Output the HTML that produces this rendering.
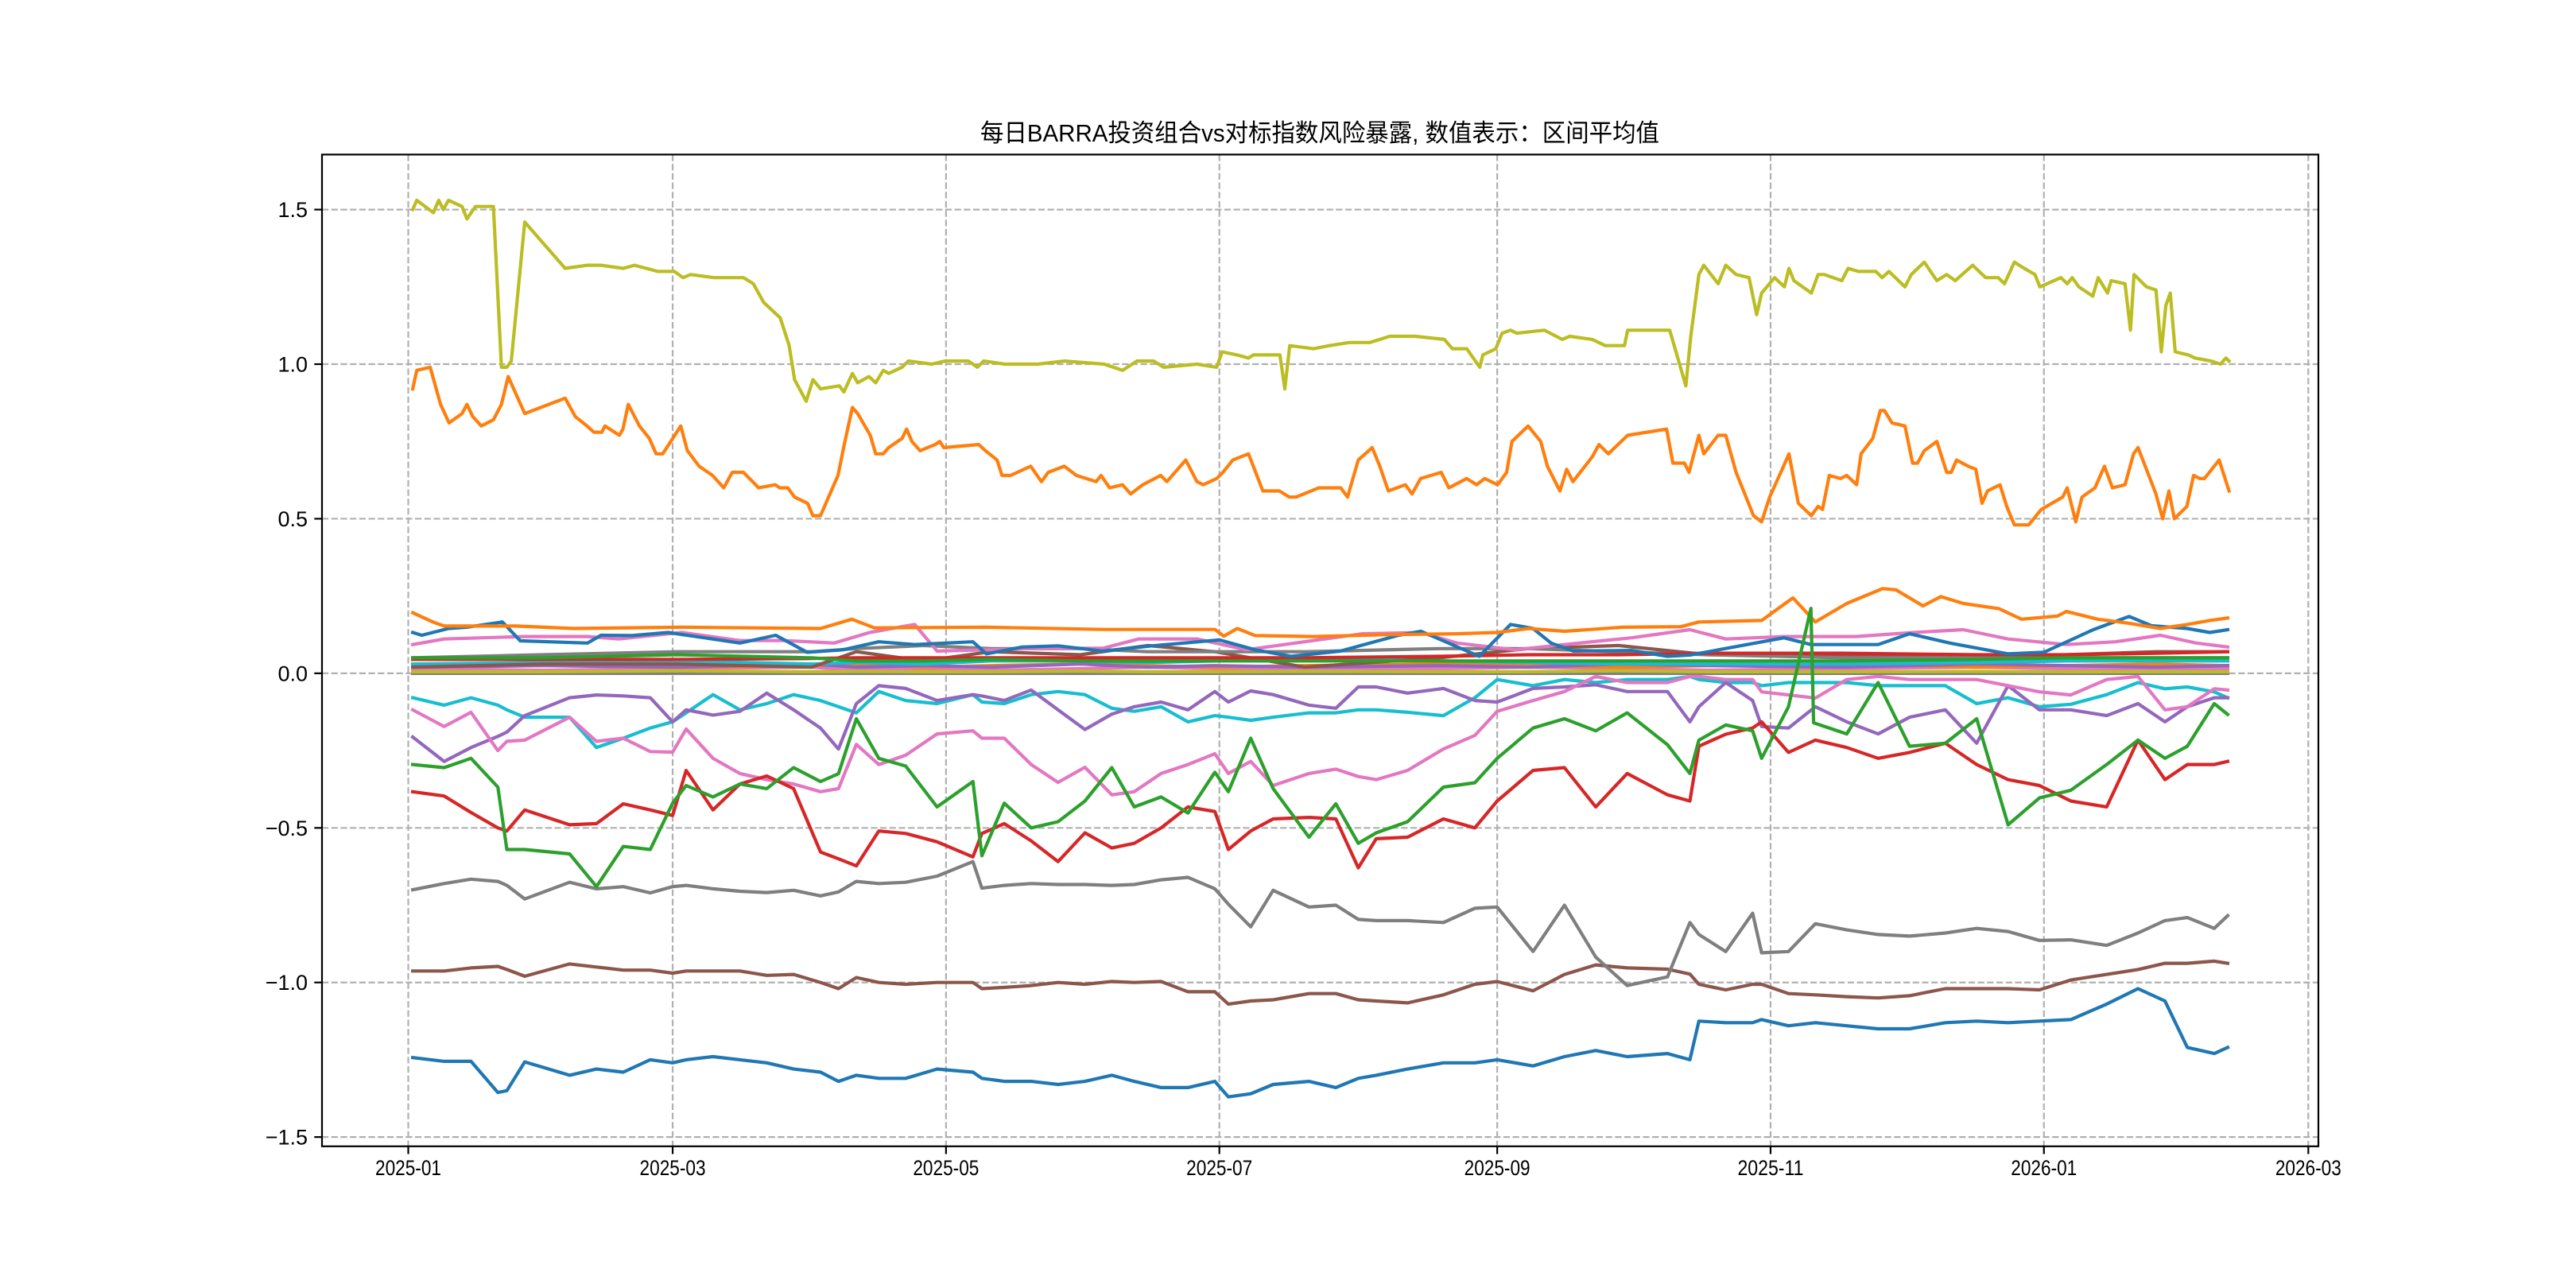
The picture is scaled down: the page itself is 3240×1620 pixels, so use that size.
<!DOCTYPE html>
<html><head><meta charset="utf-8"><style>
html,body{margin:0;padding:0;background:#fff}
svg{display:block}
text{font-family:"Liberation Sans","Noto Sans CJK SC",sans-serif;fill:#000}
</style></head><body>
<svg id="chart" width="3240" height="1620" viewBox="0 0 3240 1620" xmlns="http://www.w3.org/2000/svg">
<rect width="3240" height="1620" fill="#fff"/>
<defs><clipPath id="plotclip"><rect x="405" y="194.4" width="2511" height="1247.4"/></clipPath></defs>
<g id="grid"></g>
<g id="series" clip-path="url(#plotclip)"></g>
<rect x="405" y="194.4" width="2511" height="1247.4" fill="none" stroke="#000" stroke-width="2.2"/>
<g id="ticks"></g>
<text x="1660" y="178" text-anchor="middle" font-size="31" textLength="854" lengthAdjust="spacingAndGlyphs">每日BARRA投资组合vs对标指数风险暴露, 数值表示：区间平均值</text>
</svg>
<script>
// x in days since 2025-01-01
const xTickDays = [0,59,120,181,243,304,365,424];
const xTickLabels = ["2025-01","2025-03","2025-05","2025-07","2025-09","2025-11","2026-01","2026-03"];
const yTicks = [-1.5,-1.0,-0.5,0.0,0.5,1.0,1.5];
const yTickLabels = ["−1.5","−1.0","−0.5","0.0","0.5","1.0","1.5"];

const oliveDays = [1,1.9,5.6,6.8,7.8,9,12,13.1,15,19,20.8,22,23,26,35,40,43,48,50.5,55.7,59.4,61.3,63,68.2,71.9,74.8,77,79.3,83,85,86.2,88.8,90.3,92,96.2,97.2,99.1,100.3,102.8,104.3,106,107.2,110.2,111.6,116.8,119.8,125,127,128.4,133.1,140.5,146.4,155.3,159.4,162.6,166.3,168.6,176,180.4,181.6,184.9,187.5,188.6,194.5,195.6,196.7,202,205.6,210,214.6,219,224.7,231.2,233,236.2,239.1,239.8,242.7,244.1,246,247.4,253.5,257.5,259.2,264.2,267.1,271.4,272.1,281.5,285.1,286.2,288,289.1,292.3,294,296.3,299.2,300.9,302,304.9,307.1,308.1,309.2,313.1,314.6,316,319.9,321.3,323.6,327.5,328.9,330.4,334,335.4,338.3,341.1,343.3,345.2,349.1,352,354.8,356.2,358.4,360.6,363,364.1,368.8,370.2,371.3,372.8,375.9,377.1,379.2,380,383.1,384.3,385.1,387.9,390,391.2,392.2,393.2,394.3,397.2,398.7,402.3,404.4,405.6,406.3];
const oliveVals = [1.50,1.53,1.49,1.53,1.50,1.53,1.51,1.47,1.51,1.51,0.99,0.99,1.01,1.46,1.31,1.32,1.32,1.31,1.32,1.30,1.30,1.28,1.29,1.28,1.28,1.28,1.26,1.20,1.15,1.06,0.95,0.88,0.95,0.92,0.93,0.91,0.97,0.94,0.96,0.94,0.98,0.97,0.99,1.01,1.00,1.01,1.01,0.99,1.01,1.00,1.00,1.01,1.00,0.98,1.01,1.01,0.99,1.00,0.99,1.04,1.03,1.02,1.03,1.03,0.92,1.06,1.05,1.06,1.07,1.07,1.09,1.09,1.08,1.05,1.05,0.99,1.03,1.05,1.10,1.11,1.10,1.11,1.08,1.09,1.08,1.06,1.06,1.11,1.11,0.93,1.09,1.29,1.32,1.26,1.32,1.29,1.28,1.16,1.23,1.28,1.25,1.31,1.27,1.23,1.29,1.29,1.27,1.31,1.30,1.30,1.28,1.30,1.25,1.29,1.33,1.27,1.29,1.27,1.32,1.28,1.28,1.26,1.33,1.31,1.29,1.25,1.28,1.26,1.28,1.25,1.22,1.28,1.23,1.27,1.26,1.11,1.29,1.25,1.24,1.04,1.19,1.23,1.04,1.03,1.02,1.01,1.00,1.02,1.01];

const orangeDays = [1,1.9,4.9,7.2,9.1,12,13.1,14.4,16.3,19,20.8,22.3,26,35,37.3,39.9,41.4,43.2,43.9,47.1,47.9,49.1,51.6,53.8,55.3,56.8,60.8,62.3,64.9,67.9,70.4,72.3,74.8,78.2,81.9,82.9,84.7,86.2,89.1,90.3,92,95.9,97.3,99.1,100.3,103.1,104.3,106,107.2,110.2,111.2,112.4,114.2,117.6,118.6,119.5,127.3,128.8,131.4,132.5,134.4,138.9,141.3,142.8,146.4,149.1,153.5,154.6,156.5,159.4,161.2,163.9,167.9,169.3,173.5,176,177.4,180.4,181.8,184,187.5,190.7,192.2,194.4,196.6,198.1,203.2,204.7,208.1,209.6,212,215.1,216.8,218.7,222.5,224,225.9,230.5,232.2,236.2,238.4,240.2,243.1,245.1,246.3,249.9,252.7,254.2,257,258.5,259.9,264.2,265.7,267.8,272.1,280.8,282.2,284.8,285.8,288,289.1,292.3,294,296.3,300.2,302,303.8,306.6,308.1,310.2,313.1,314.6,315.6,317.1,319.6,321,323.2,324.2,326.8,328.5,329.4,331.1,334,335.7,336.8,338.3,341.1,343.3,344.3,345.5,348.1,349.8,351.2,352.4,355.2,356.7,358.4,361.6,364.4,369.2,370.2,372.1,373.5,376.4,378.5,380.3,383.1,385,386,390,391.5,392.9,394.1,396.9,398.4,399.8,400.8,404.1,406.3];
const orangeVals = [0.92,0.98,0.99,0.87,0.81,0.84,0.87,0.83,0.80,0.82,0.87,0.96,0.84,0.89,0.83,0.80,0.78,0.78,0.80,0.77,0.79,0.87,0.80,0.76,0.71,0.71,0.80,0.72,0.67,0.64,0.60,0.65,0.65,0.60,0.61,0.60,0.60,0.57,0.55,0.51,0.51,0.64,0.74,0.86,0.84,0.77,0.71,0.71,0.73,0.76,0.79,0.75,0.72,0.74,0.75,0.73,0.74,0.72,0.69,0.64,0.64,0.67,0.62,0.65,0.67,0.64,0.62,0.64,0.60,0.61,0.58,0.61,0.64,0.62,0.69,0.62,0.61,0.63,0.65,0.69,0.71,0.59,0.59,0.59,0.57,0.57,0.60,0.60,0.60,0.57,0.69,0.73,0.67,0.59,0.61,0.58,0.63,0.65,0.60,0.63,0.61,0.63,0.61,0.65,0.75,0.80,0.75,0.67,0.59,0.66,0.62,0.70,0.74,0.71,0.77,0.79,0.68,0.68,0.65,0.77,0.71,0.77,0.77,0.65,0.51,0.49,0.57,0.66,0.71,0.55,0.51,0.54,0.53,0.64,0.63,0.64,0.61,0.71,0.76,0.85,0.85,0.81,0.80,0.68,0.68,0.72,0.75,0.65,0.65,0.69,0.67,0.66,0.55,0.59,0.61,0.54,0.48,0.48,0.53,0.57,0.60,0.49,0.57,0.60,0.67,0.60,0.61,0.71,0.73,0.58,0.50,0.59,0.50,0.54,0.64,0.63,0.63,0.69,0.59];

const posDaysA = [1,5.5,8,24,37,61,92,99,104,129,155,180,182,185,189,202,218,234,243,250,258,271,284,288,302,309,314,321,329,332,338,342,347,355,360,368,370,377,384,391,397,402,406];
const orange2Vals = [0.196,0.166,0.153,0.153,0.145,0.149,0.145,0.175,0.147,0.149,0.142,0.142,0.120,0.145,0.122,0.119,0.125,0.128,0.132,0.145,0.136,0.149,0.151,0.166,0.171,0.244,0.166,0.226,0.274,0.270,0.218,0.248,0.226,0.209,0.175,0.185,0.200,0.175,0.162,0.145,0.158,0.171,0.179];
const blue2Days = [1,3,9,13,21,25,40,43,50,58,74,82,89,97,105,113,126,129,137,145,155,166,181,189,197,208,221,226,239,246,251,255,260,273,281,286,307,313,328,335,344,357,365,376,384,389,397,402,406];
const blue2Vals = [0.132,0.123,0.145,0.149,0.166,0.105,0.098,0.123,0.122,0.132,0.098,0.123,0.068,0.076,0.102,0.093,0.102,0.063,0.085,0.089,0.072,0.089,0.108,0.076,0.055,0.072,0.123,0.136,0.055,0.158,0.145,0.098,0.072,0.074,0.055,0.059,0.115,0.093,0.093,0.128,0.098,0.063,0.068,0.141,0.184,0.154,0.145,0.132,0.141];
const pink2Days = [1,8,26,40,47,61,74,84,95,103,113,118,129,142,155,163,176,187,200,213,226,234,247,258,273,286,294,307,323,336,347,357,370,381,391,399,406];
const pink2Vals = [0.093,0.111,0.119,0.119,0.111,0.132,0.106,0.106,0.098,0.132,0.158,0.072,0.076,0.081,0.081,0.111,0.111,0.076,0.102,0.128,0.132,0.098,0.076,0.093,0.115,0.141,0.111,0.119,0.119,0.132,0.141,0.111,0.093,0.102,0.123,0.098,0.085];

const minorDays = [1,30,60,90,100,115,130,150,165,180,200,230,250,270,290,320,350,370,390,406];
const brown2Vals = [0.02,0.03,0.03,0.02,0.07,0.04,0.07,0.06,0.09,0.07,0.02,0.05,0.08,0.09,0.06,0.06,0.05,0.06,0.07,0.07];
const gray2Vals = [0.05,0.06,0.07,0.07,0.08,0.09,0.08,0.08,0.07,0.07,0.07,0.08,0.08,0.07,0.06,0.05,0.05,0.05,0.05,0.05];
const red2Vals = [0.045,0.045,0.045,0.048,0.05,0.05,0.05,0.05,0.05,0.05,0.05,0.055,0.06,0.06,0.065,0.065,0.06,0.06,0.065,0.07];
const green2Vals = [0.05,0.05,0.06,0.05,0.04,0.04,0.045,0.04,0.04,0.04,0.04,0.04,0.04,0.04,0.04,0.04,0.045,0.05,0.05,0.05];
const cyan2Vals = [0.03,0.035,0.04,0.03,0.035,0.03,0.04,0.04,0.035,0.04,0.05,0.04,0.035,0.03,0.03,0.03,0.035,0.04,0.04,0.04];
const purple2Vals = [0.02,0.025,0.02,0.03,0.02,0.025,0.02,0.03,0.02,0.025,0.02,0.025,0.02,0.03,0.025,0.02,0.03,0.025,0.02,0.025];
const orange3Vals = [0.025,0.03,0.02,0.025,0.03,0.02,0.025,0.03,0.025,0.02,0.025,0.03,0.025,0.02,0.025,0.03,0.02,0.025,0.03,0.025];
const pink3Vals = [0.015,0.01,0.015,0.02,0.01,0.015,0.01,0.015,0.02,0.015,0.01,0.015,0.02,0.015,0.01,0.015,0.02,0.015,0.01,0.015];
const olive2Vals = [0.005,0.005,0.008,0.005,0.006,0.005,0.005,0.007,0.005,0.005,0.006,0.005,0.005,0.008,0.005,0.005,0.006,0.005,0.005,0.005];
const gray3Vals = [0,0,0,0,0,0,0,0,0,0,0,0,0,0,0,0,0,0,0,0];

const gridDays = [1,8,14,20,22,26,36,42,48,54,59,62,68,74,80,86,92,96,100,105,111,118,126,128,133,139,145,151,157,162,168,174,180,183,188,193,201,207,212,216,223,231,238,243,251,258,265,272,281,286,288,294,300,302,308,314,321,328,335,343,350,357,364,371,379,386,392,397,403,406];
const blueVals = [-1.243,-1.255,-1.255,-1.356,-1.35,-1.257,-1.30,-1.28,-1.29,-1.25,-1.26,-1.25,-1.24,-1.25,-1.26,-1.28,-1.29,-1.32,-1.30,-1.31,-1.31,-1.28,-1.29,-1.31,-1.32,-1.32,-1.33,-1.32,-1.30,-1.32,-1.34,-1.34,-1.32,-1.37,-1.36,-1.33,-1.32,-1.34,-1.31,-1.30,-1.28,-1.26,-1.26,-1.25,-1.27,-1.24,-1.22,-1.24,-1.23,-1.25,-1.125,-1.13,-1.13,-1.12,-1.14,-1.13,-1.14,-1.15,-1.15,-1.13,-1.125,-1.13,-1.125,-1.12,-1.07,-1.02,-1.06,-1.21,-1.23,-1.21];
const brownVals = [-0.963,-0.963,-0.953,-0.948,-0.958,-0.98,-0.94,-0.95,-0.96,-0.96,-0.97,-0.963,-0.963,-0.963,-0.977,-0.974,-1.00,-1.02,-0.984,-1.00,-1.006,-1.00,-1.00,-1.02,-1.016,-1.01,-1.00,-1.006,-0.997,-1.00,-0.997,-1.03,-1.03,-1.07,-1.06,-1.056,-1.036,-1.036,-1.056,-1.06,-1.066,-1.04,-1.006,-0.997,-1.027,-0.974,-0.943,-0.953,-0.957,-0.973,-1.006,-1.024,-1.006,-1.006,-1.036,-1.04,-1.046,-1.05,-1.043,-1.02,-1.02,-1.02,-1.024,-0.992,-0.974,-0.958,-0.938,-0.938,-0.931,-0.938];
const grayVals = [-0.70,-0.68,-0.666,-0.673,-0.686,-0.73,-0.676,-0.697,-0.69,-0.71,-0.69,-0.686,-0.697,-0.705,-0.709,-0.702,-0.72,-0.707,-0.673,-0.68,-0.676,-0.656,-0.609,-0.695,-0.686,-0.68,-0.683,-0.683,-0.686,-0.683,-0.668,-0.66,-0.697,-0.747,-0.82,-0.702,-0.756,-0.75,-0.796,-0.80,-0.80,-0.806,-0.76,-0.756,-0.90,-0.75,-0.918,-1.01,-0.982,-0.806,-0.845,-0.90,-0.776,-0.904,-0.90,-0.81,-0.83,-0.845,-0.85,-0.84,-0.825,-0.835,-0.864,-0.862,-0.88,-0.84,-0.80,-0.79,-0.825,-0.784];
const redVals = [-0.383,-0.397,-0.45,-0.50,-0.51,-0.442,-0.49,-0.486,-0.422,-0.442,-0.46,-0.314,-0.442,-0.358,-0.332,-0.373,-0.578,-0.60,-0.623,-0.51,-0.518,-0.545,-0.594,-0.518,-0.486,-0.542,-0.609,-0.516,-0.565,-0.55,-0.50,-0.432,-0.447,-0.57,-0.51,-0.471,-0.466,-0.471,-0.629,-0.535,-0.53,-0.471,-0.50,-0.413,-0.314,-0.305,-0.432,-0.324,-0.393,-0.413,-0.236,-0.197,-0.177,-0.157,-0.256,-0.216,-0.24,-0.275,-0.256,-0.226,-0.295,-0.344,-0.363,-0.413,-0.432,-0.216,-0.344,-0.295,-0.295,-0.285];
const greenDays = [1,8,14,20,22,26,36,42,48,54,59,62,68,74,80,86,92,96,100,105,111,118,126,128,133,139,145,151,157,162,168,174,180,183,188,193,201,207,212,216,223,231,238,243,251,258,265,272,281,286,288,294,300,302,308,313,313.6,321,328,335,343,350,357,364,371,379,386,392,397,403,406];
const greenVals = [-0.295,-0.305,-0.275,-0.368,-0.57,-0.57,-0.584,-0.69,-0.56,-0.57,-0.42,-0.363,-0.40,-0.358,-0.373,-0.305,-0.35,-0.325,-0.147,-0.275,-0.30,-0.432,-0.35,-0.59,-0.42,-0.50,-0.48,-0.413,-0.305,-0.432,-0.40,-0.452,-0.32,-0.383,-0.21,-0.373,-0.53,-0.422,-0.55,-0.516,-0.48,-0.368,-0.354,-0.275,-0.177,-0.147,-0.186,-0.128,-0.231,-0.324,-0.216,-0.167,-0.186,-0.275,-0.108,0.21,-0.16,-0.196,-0.03,-0.236,-0.226,-0.147,-0.49,-0.403,-0.378,-0.295,-0.216,-0.275,-0.236,-0.098,-0.133];
const pinkVals = [-0.118,-0.172,-0.126,-0.25,-0.22,-0.216,-0.142,-0.22,-0.21,-0.253,-0.255,-0.18,-0.275,-0.324,-0.344,-0.358,-0.383,-0.373,-0.23,-0.295,-0.265,-0.196,-0.186,-0.21,-0.21,-0.295,-0.353,-0.304,-0.393,-0.383,-0.324,-0.295,-0.26,-0.324,-0.285,-0.363,-0.324,-0.31,-0.334,-0.344,-0.314,-0.245,-0.201,-0.123,-0.088,-0.059,-0.01,-0.03,-0.03,-0.01,-0.01,-0.02,-0.02,-0.06,-0.07,-0.08,-0.02,-0.01,-0.02,-0.02,-0.02,-0.04,-0.06,-0.07,-0.02,-0.01,-0.118,-0.108,-0.05,-0.054];
const purpleVals = [-0.206,-0.285,-0.24,-0.204,-0.19,-0.137,-0.079,-0.07,-0.073,-0.079,-0.157,-0.118,-0.135,-0.123,-0.064,-0.118,-0.177,-0.245,-0.098,-0.04,-0.049,-0.088,-0.069,-0.073,-0.088,-0.054,-0.118,-0.182,-0.132,-0.108,-0.093,-0.118,-0.059,-0.093,-0.057,-0.069,-0.103,-0.113,-0.044,-0.044,-0.064,-0.049,-0.088,-0.093,-0.049,-0.044,-0.037,-0.059,-0.059,-0.157,-0.108,-0.03,-0.088,-0.172,-0.177,-0.108,-0.157,-0.196,-0.142,-0.118,-0.226,-0.04,-0.118,-0.118,-0.137,-0.098,-0.157,-0.108,-0.079,-0.079];
const cyanVals = [-0.079,-0.103,-0.079,-0.103,-0.118,-0.142,-0.142,-0.24,-0.21,-0.177,-0.157,-0.128,-0.069,-0.118,-0.098,-0.069,-0.088,-0.108,-0.128,-0.059,-0.088,-0.098,-0.069,-0.093,-0.098,-0.069,-0.059,-0.069,-0.113,-0.123,-0.108,-0.157,-0.137,-0.142,-0.152,-0.142,-0.128,-0.128,-0.118,-0.118,-0.126,-0.137,-0.079,-0.02,-0.04,-0.02,-0.03,-0.02,-0.02,-0.01,-0.02,-0.03,-0.03,-0.04,-0.03,-0.03,-0.03,-0.04,-0.04,-0.04,-0.098,-0.079,-0.108,-0.1,-0.069,-0.03,-0.05,-0.044,-0.06,-0.079];

const NS = "http://www.w3.org/2000/svg";
const L = 405, R = 2916, T = 194.4, B = 1441.8;
const X0 = -19.25, X1 = 426.25, Y0 = -1.530, Y1 = 1.678;
function xScale(d){ return L + (d - X0) / (X1 - X0) * (R - L); }
function yScale(v){ return B - (v - Y0) / (Y1 - Y0) * (B - T); }

const grid = document.getElementById('grid');
const ticks = document.getElementById('ticks');
const seriesG = document.getElementById('series');

xTickDays.forEach((d, i) => {
  const x = xScale(d);
  const g = document.createElementNS(NS, 'line');
  g.setAttribute('x1', x); g.setAttribute('x2', x); g.setAttribute('y1', T); g.setAttribute('y2', B);
  g.setAttribute('stroke', '#b0b0b0'); g.setAttribute('stroke-width', '2.2'); g.setAttribute('stroke-dasharray', '8.2 3.5');
  
  
  grid.appendChild(g);
  const t = document.createElementNS(NS, 'line');
  t.setAttribute('x1', x); t.setAttribute('x2', x); t.setAttribute('y1', B); t.setAttribute('y2', B + 9.7);
  t.setAttribute('stroke', '#000'); t.setAttribute('stroke-width', '2.2');
  
  
  ticks.appendChild(t);
  const tx = document.createElementNS(NS, 'text');
  tx.setAttribute('x', x); tx.setAttribute('y', B + 36); tx.setAttribute('text-anchor', 'middle');
  tx.setAttribute('font-size', '27'); tx.setAttribute('textLength', '83'); tx.setAttribute('lengthAdjust', 'spacingAndGlyphs');
  tx.textContent = xTickLabels[i];
  
  
  ticks.appendChild(tx);
});
yTicks.forEach((v, i) => {
  const y = yScale(v);
  const g = document.createElementNS(NS, 'line');
  g.setAttribute('x1', L); g.setAttribute('x2', R); g.setAttribute('y1', y); g.setAttribute('y2', y);
  g.setAttribute('stroke', '#b0b0b0'); g.setAttribute('stroke-width', '2.2'); g.setAttribute('stroke-dasharray', '8.2 3.5');
  
  
  grid.appendChild(g);
  const t = document.createElementNS(NS, 'line');
  t.setAttribute('x1', L - 9.7); t.setAttribute('x2', L); t.setAttribute('y1', y); t.setAttribute('y2', y);
  t.setAttribute('stroke', '#000'); t.setAttribute('stroke-width', '2.2');
  
  
  ticks.appendChild(t);
  const tx = document.createElementNS(NS, 'text');
  tx.setAttribute('x', L - 18); tx.setAttribute('y', y + 9.5); tx.setAttribute('text-anchor', 'end');
  tx.setAttribute('font-size', '27');
  tx.textContent = yTickLabels[i];
  
  
  ticks.appendChild(tx);
});

function drawSeries(days, vals, color, name){
  let d = '';
  for (let i = 0; i < vals.length; i++) {
    d += (i ? 'L' : 'M') + xScale(days[i]).toFixed(1) + ' ' + yScale(vals[i]).toFixed(1);
  }
  const p = document.createElementNS(NS, 'path');
  p.setAttribute('d', d);
  p.setAttribute('fill', 'none');
  p.setAttribute('stroke', color);
  p.setAttribute('stroke-width', '4.2');
  p.setAttribute('stroke-linejoin', 'round');
  p.setAttribute('stroke-linecap', 'square');
  
  
  seriesG.appendChild(p);
}

drawSeries(minorDays, gray3Vals, '#7f7f7f', 'line-factor-gray-3');
drawSeries(minorDays, pink3Vals, '#e377c2', 'line-factor-pink-3');
drawSeries(minorDays, orange3Vals, '#ff7f0e', 'line-factor-orange-3');
drawSeries(minorDays, purple2Vals, '#9467bd', 'line-factor-purple-2');
drawSeries(minorDays, cyan2Vals, '#17becf', 'line-factor-cyan-2');
drawSeries(minorDays, brown2Vals, '#8c564b', 'line-factor-brown-2');
drawSeries(minorDays, gray2Vals, '#7f7f7f', 'line-factor-gray-2');
drawSeries(minorDays, red2Vals, '#d62728', 'line-factor-red-2');
drawSeries(minorDays, green2Vals, '#2ca02c', 'line-factor-green-2');
drawSeries(minorDays, olive2Vals, '#bcbd22', 'line-factor-olive-2');
drawSeries(pink2Days, pink2Vals, '#e377c2', 'line-factor-pink-2');
drawSeries(blue2Days, blue2Vals, '#1f77b4', 'line-factor-blue-2');
drawSeries(posDaysA, orange2Vals, '#ff7f0e', 'line-factor-orange-2');
drawSeries(gridDays, blueVals, '#1f77b4', 'line-factor-blue');
drawSeries(gridDays, brownVals, '#8c564b', 'line-factor-brown');
drawSeries(gridDays, grayVals, '#7f7f7f', 'line-factor-gray');
drawSeries(gridDays, cyanVals, '#17becf', 'line-factor-cyan');
drawSeries(gridDays, purpleVals, '#9467bd', 'line-factor-purple');
drawSeries(gridDays, pinkVals, '#e377c2', 'line-factor-pink');
drawSeries(gridDays, redVals, '#d62728', 'line-factor-red');
drawSeries(greenDays, greenVals, '#2ca02c', 'line-factor-green');
drawSeries(orangeDays, orangeVals, '#ff7f0e', 'line-factor-orange');
drawSeries(oliveDays, oliveVals, '#bcbd22', 'line-factor-olive');
</script>
</body></html>
